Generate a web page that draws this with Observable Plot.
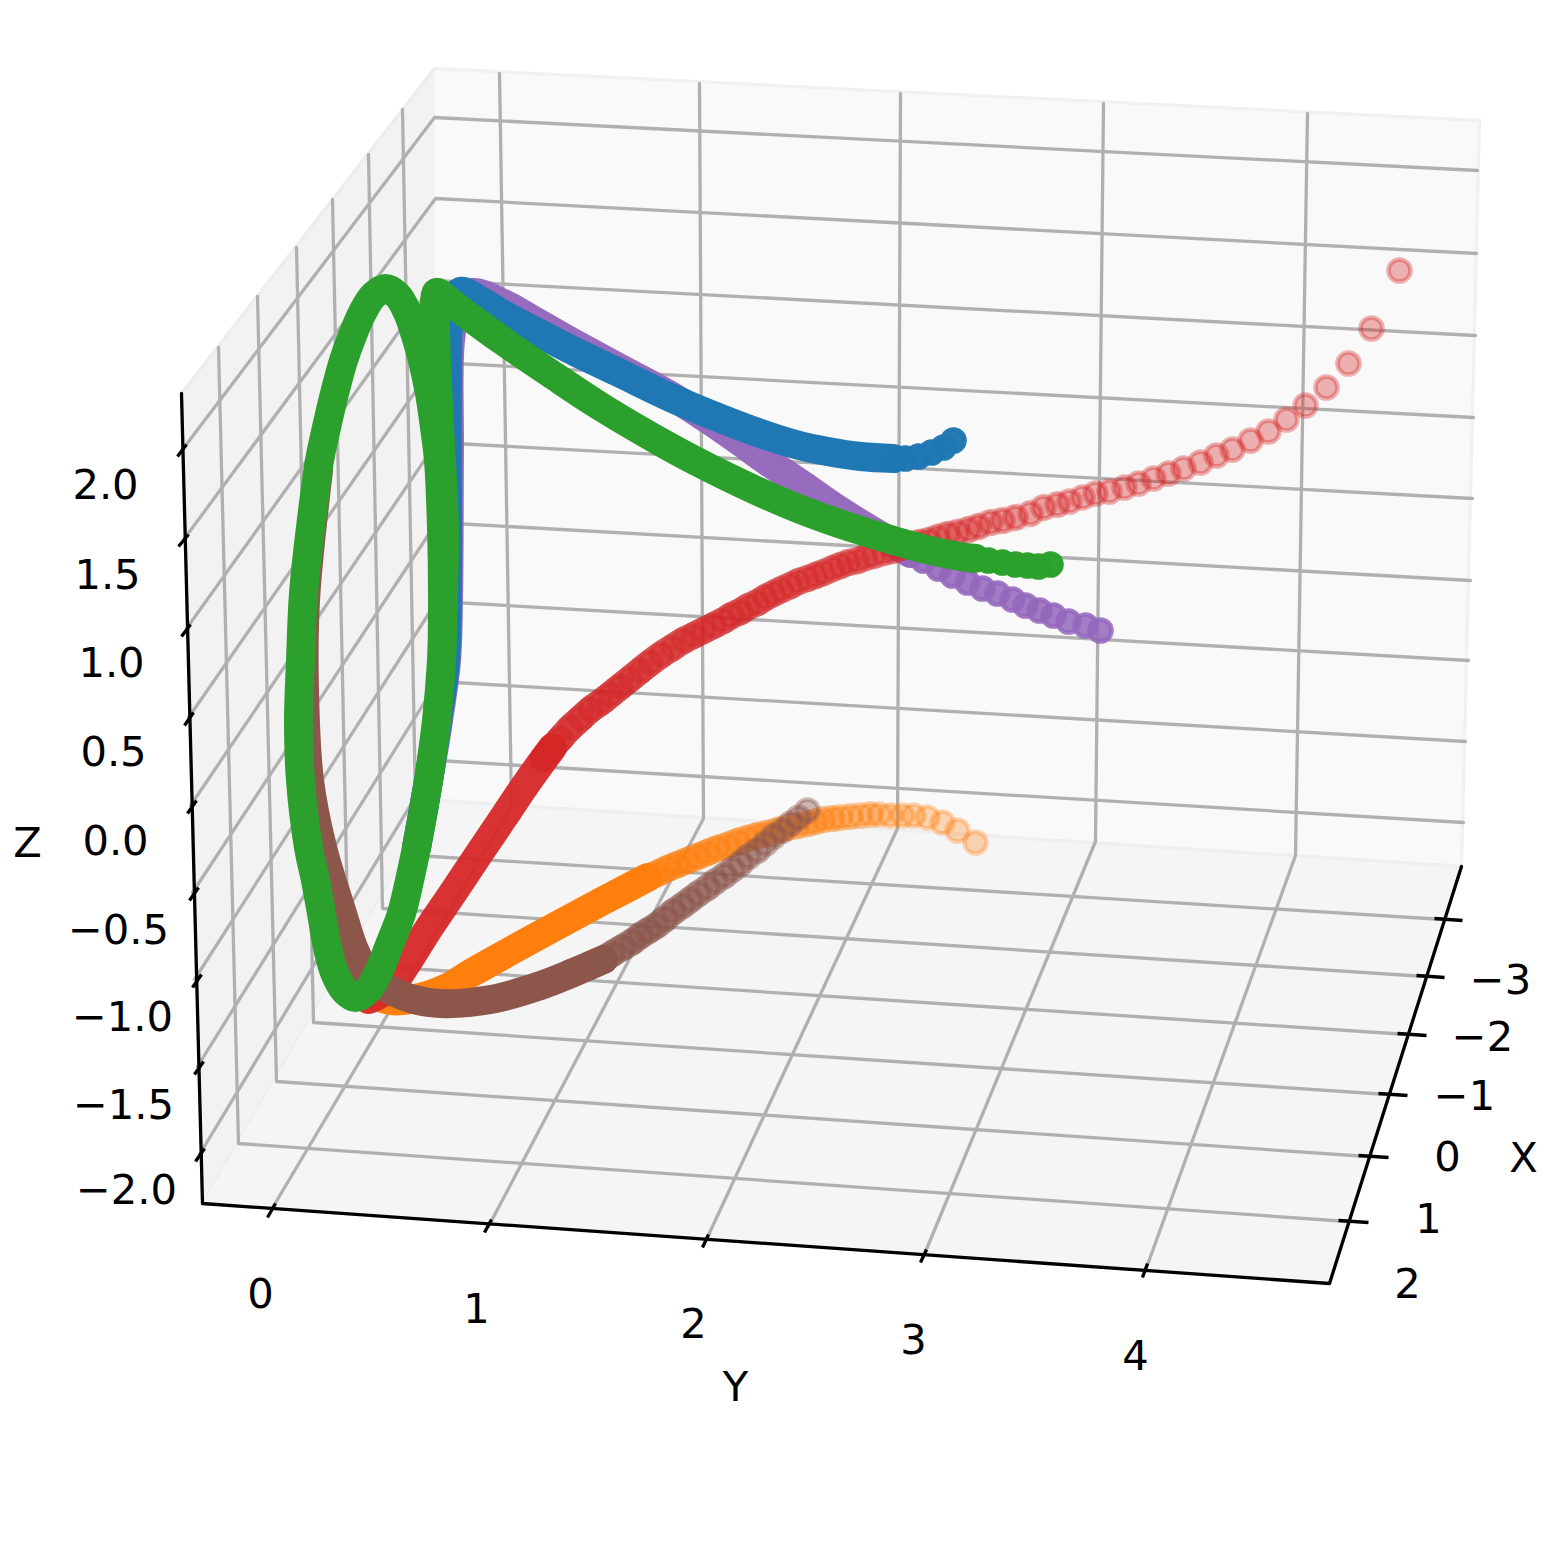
<!DOCTYPE html>
<html><head><meta charset="utf-8">
<style>html,body{margin:0;padding:0;background:#fff;overflow:hidden}svg{display:block}</style>
<script src="https://cdn.jsdelivr.net/npm/d3@7"></script>
<script src="https://cdn.jsdelivr.net/npm/@observablehq/plot@0.6"></script>
</head><body>
<script>
const xTickLabels = ["−3","−2","−1","0","1","2"];
const yTickLabels = ["0","1","2","3","4"];
const zTickLabels = ["2.0","1.5","1.0","0.5","0.0","−0.5","−1.0","−1.5","−2.0"];

const paneBack = [[434,68],[1479,120],[1461,866],[437,800]];
const paneLeft = [[434,68],[181,393],[202,1203],[437,800]];
const paneFloor = [[202,1203],[1329,1283],[1461,866],[437,800]];
const axisLine = [[181,393],[202,1203],[1329,1283],[1461,866]];

const gridX = [
  [[402,109],[416,855],[1443,919]],[[368,154],[382,908],[1425,976]],[[332,199],[348,964],[1407,1034]],
  [[296,247],[313,1022],[1387,1094]],[[257,296],[276,1081],[1367,1156]],[[218,347],[238,1143],[1347,1221]]];
const gridY = [
  [[499,73],[511,806],[271,1209]],[[699,83],[703,818],[488,1226]],[[900,93],[897,828],[705,1241]],
  [[1103,103],[1095,841],[923,1256]],[[1307,113],[1295,855],[1145,1270]]];
const gridZ = [
  [[182,449],[434,117],[1477,170]],[[184,538],[435,198],[1476,253]],[[186,628],[435,280],[1475,335]],
  [[188,717],[435,362],[1473,417]],[[190,805],[436,442],[1472,498]],[[192,892],[436,522],[1470,580]],
  [[194,979],[436,601],[1468,660]],[[197,1066],[437,681],[1465,741]],[[199,1154],[437,760],[1463,822]]];

const tickX = [[1434,918,1462,920],[1416,975,1444,977],[1397,1033,1426,1035],[1378,1093,1407,1095],[1358,1155,1388,1157],[1338,1220,1368,1222]];
const tickY = [[267,1217,275,1203],[484,1232,491,1219],[702,1247,708,1234],[920,1262,926,1249],[1142,1277,1147,1263]];
const tickZ = [[177,456,186,444],[178,546,188,534],[181,636,190,624],[184,725,193,712],[187,813,196,800],[189,900,198,887],[192,987,201,974],[194,1074,203,1061],[195,1161,204,1148]];

const labelPosX = [[1500,980],[1482,1037],[1464,1096],[1447,1157],[1428,1219],[1407,1284]];
const labelPosY = [[260,1294],[476,1309],[693,1324],[913,1340],[1135,1356]];
const labelPosZ = [[105,485],[107,575],[111,663],[113,752],[115,841],[118,930],[122,1017],[123,1105],[126,1190]];
const axisTitles = [["X",1523,1158],["Y",735,1387],["Z",27,843]];

const redX = [1399,1371,1348,1326,1305,1286,1268,1250,1232,1216,1200,1183,1168,1153,1138,1124,1109,1095,1082,1069,1057,1043,1030,1015,1002,990,978,968,957,947,937,928,919,910,901,892,883,873,865,857,848,840,832,823,815,807,798,790,781,773,765,757,748,740,731,723,713,703,693,683,672,661,650,640,630,620,610,600,590,580,570,560,552,543];
const redY = [270,328,363,387,405,419,431,440,449,455,462,468,473,478,483,487,491,493,497,501,504,507,513,517,520,522,526,529,532,534,537,540,542,545,547,550,552,555,557,560,562,565,568,572,575,578,581,585,589,593,597,602,606,611,615,620,625,630,635,640,647,654,662,670,678,686,694,702,709,718,727,738,747,758];
const redPathX = [552,528,503,478,452,427,405,388,368];
const redPathY = [747,780,817,854,893,930,965,988,999];

const orangeX = [975,957,942,927,913,902,890,879,870,860,850,840,832,823,815,807,797,787,777,767,757,747,737,727,717,707,697,687,677,667,657,647];
const orangeY = [842,830,822,817,815,815,815,814,814,815,816,817,818,819,821,823,825,827,830,833,835,838,841,845,848,852,856,860,864,868,873,877];
const orangePathX = [647,603,540,470,445,415,390,367,347];
const orangePathY = [877,900,934,973,988,998,1000,990,960];

const brownX = [807,798,790,782,773,765,757,748,740,732,724,715,707,698,690,682,673,665,656,648,640,632,622,612,603];
const brownY = [810,817,823,830,836,843,850,856,863,869,875,881,887,893,899,905,911,918,925,930,935,941,947,953,959];
const brownPathX = [603,573,540,490,440,410,387,367,353,342,322,309,304,305,318];
const brownPathY = [959,972,985,999,1003,998,988,973,947,913,847,780,690,600,470];

const purpleX = [1100,1085,1068,1053,1039,1025,1012,997,982,967,952,938,923,910];
const purpleY = [630,625,621,615,610,605,599,593,588,582,575,568,560,553];
const purplePathX = [910,893,873,850,827,800,767,735,703,670,620,570,530,503,472,458,450,449,448,446,438,428,416];
const purplePathY = [553,543,531,517,502,483,461,438,416,395,368,341,318,303,292,302,340,450,600,660,720,780,847];

const blueX = [953,943,931,918,905,893];
const blueY = [440,447,452,456,458,458];
const bluePathX = [893,860,827,795,760,710,670,620,570,535,503,478,460,449,447,447,447,445,437,428,416];
const bluePathY = [458,456,451,444,433,414,397,373,349,331,314,299,291,320,380,460,560,660,720,780,847];

const greenX = [1050,1038,1027,1015,1002,988,975];
const greenY = [564,566,565,564,562,560,558];
const greenPathX = [975,960,930,893,860,827,795,760,710,670,600,550,503,470,445,436,435,436,439,444,443,441,436,428,416,409,401,388,378,367,355,344,334,327,321,315,308,300,298,300,303,310,319,326,334,343,352,362,373,385,397,407,415,422,429,434,438,441,442,441,436,428];
const greenPathY = [558,556,550,540,530,519,507,492,468,447,406,373,341,317,298,292,327,360,427,527,593,660,720,780,847,880,913,947,972,990,997,990,972,947,913,880,847,780,720,660,593,527,460,427,393,360,335,312,295,288,295,312,335,360,393,427,460,527,593,660,720,780];

const rows2 = a => a.map(([x, y]) => ({x, y}));
const poly = (a, id) => a.map(([x, y]) => ({x, y, id}));
const lines = g => g.flatMap(poly);
const links = t => t.map(([x1, y1, x2, y2]) => ({x1, y1, x2, y2}));
const path = (xs, ys) => xs.map((x, i) => ({x, y: ys[i]}));

// Depth shading: markers fade with their distance along the curve from the far end.
function shaded(xs, ys, a0, reach) {
  let d = 0;
  return xs.map((x, i) => {
    if (i) d += Math.hypot(x - xs[i-1], ys[i] - ys[i-1]);
    return {x, y: ys[i], a: Math.min(1, a0 + (1 - a0) * (d / reach) ** 2)};
  });
}
const R = 11, EDGE = 4.6, BAND = 29, WASH = 27;
const band = (px, py, color, opacity, width = BAND) => Plot.line(path(px, py), {x:"x", y:"y", stroke:color, strokeWidth:width, strokeOpacity:opacity, curve:"catmull-rom", strokeLinecap:"round", strokeLinejoin:"round"});
const beads = (xs, ys, color, a0, reach) => Plot.dot(shaded(xs, ys, a0, reach), {x:"x", y:"y", r:R, fill:color, stroke:color, strokeWidth:EDGE, fillOpacity:"a", strokeOpacity:"a"});
// Overlapping markers build up towards the near end: stacked faint bands along the same read points.
const wash = (xs, ys, color, from, step, opacity) => d3.range(from, xs.length - 1, step).map(i => band(xs.slice(i), ys.slice(i), color, opacity, WASH));
const labels = (texts, pos) => Plot.text(texts.map((t, i) => ({t, x: pos[i][0], y: pos[i][1]})), {x:"x", y:"y", text:"t", fontSize:41.67, fill:"#000", textAnchor:"middle", lineAnchor:"middle"});
const GRID = 3.3;

const chart = Plot.plot({
  width:1547, height:1547, margin:0,
  style:{fontFamily:"'DejaVu Sans'", background:"#fff"},
  x:{domain:[0,1547], range:[0,1547], axis:null},
  y:{domain:[0,1547], range:[0,1547], axis:null},
  marks:[
    Plot.line(rows2(paneBack), {x:"x", y:"y", fill:"#f9f9f9", stroke:"#f1f1f1", strokeWidth:GRID}),
    Plot.line(rows2(paneLeft), {x:"x", y:"y", fill:"#f2f2f2", stroke:"#ededed", strokeWidth:GRID}),
    Plot.line(rows2(paneFloor), {x:"x", y:"y", fill:"#f5f5f5", stroke:"#efefef", strokeWidth:GRID}),
    Plot.line(lines(gridX), {x:"x", y:"y", z:"id", stroke:"#b0b0b0", strokeWidth:GRID}),
    Plot.line(lines(gridY), {x:"x", y:"y", z:"id", stroke:"#b0b0b0", strokeWidth:GRID}),
    Plot.line(lines(gridZ), {x:"x", y:"y", z:"id", stroke:"#b0b0b0", strokeWidth:GRID}),
    Plot.line(rows2(axisLine), {x:"x", y:"y", stroke:"#000", strokeWidth:GRID}),
    Plot.link(links([...tickX, ...tickY, ...tickZ]), {x1:"x1", y1:"y1", x2:"x2", y2:"y2", stroke:"#000", strokeWidth:GRID}),
    band(purplePathX, purplePathY, "#9467bd", 0.97),
    beads(purpleX, purpleY, "#9467bd", 0.85, 300),
    ...wash(orangeX, orangeY, "#ff7f0e", 8, 2, 0.09),
    band(orangePathX, orangePathY, "#ff7f0e", 1),
    beads(orangeX, orangeY, "#ff7f0e", 0.3, 600),
    ...wash(redX, redY, "#d62728", 20, 3, 0.085),
    band(redPathX, redPathY, "#d62728", 0.95),
    beads(redX, redY, "#d62728", 0.35, 2500),
    band(bluePathX, bluePathY, "#1f77b4", 1),
    beads(blueX, blueY, "#1f77b4", 0.97, 100),
    ...wash(brownX, brownY, "#8c564b", 4, 2, 0.1),
    band(brownPathX, brownPathY, "#8c564b", 1),
    beads(brownX, brownY, "#8c564b", 0.4, 450),
    band(greenPathX, greenPathY, "#2ca02c", 1),
    beads(greenX, greenY, "#2ca02c", 0.98, 100),
    labels(xTickLabels, labelPosX),
    labels(yTickLabels, labelPosY),
    labels(zTickLabels, labelPosZ),
    labels(axisTitles.map(d => d[0]), axisTitles.map(d => [d[1], d[2]]))
  ]
});
document.body.appendChild(chart);
</script>
</body></html>
